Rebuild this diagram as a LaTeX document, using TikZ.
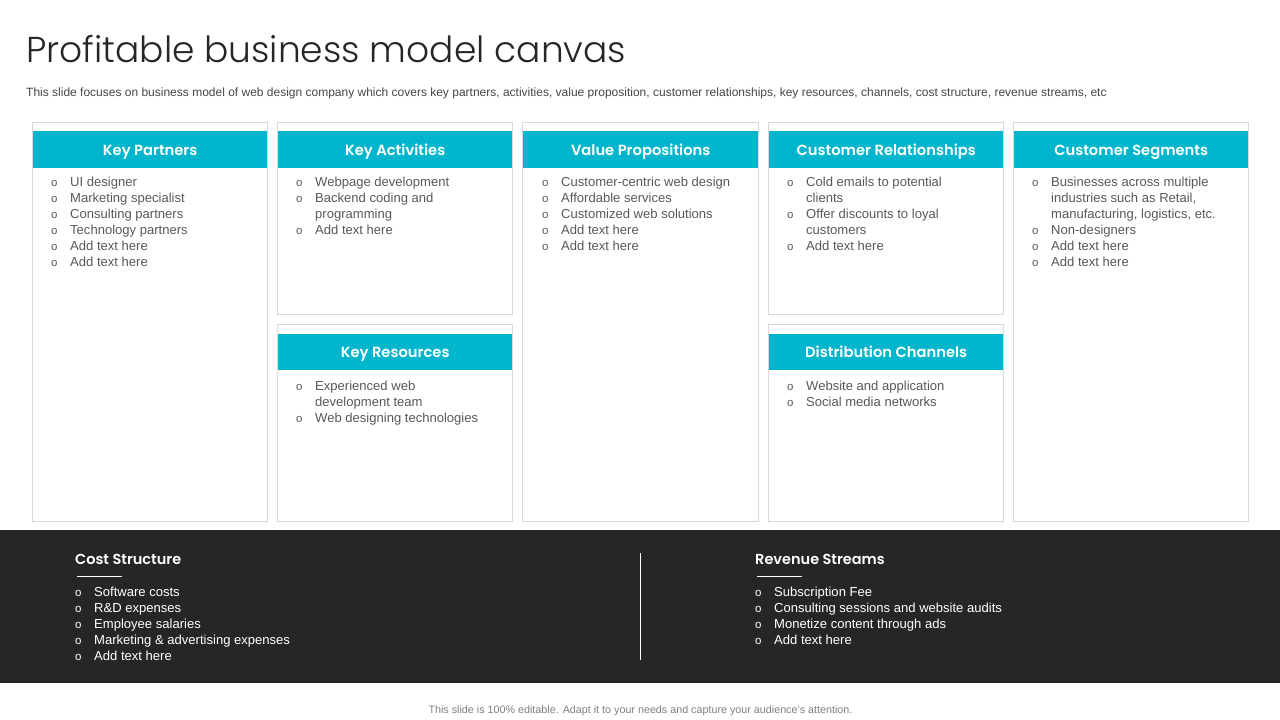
\documentclass[tikz,border=0pt]{standalone}
\usepackage{fontspec}
\setmainfont{Liberation Sans}
\newfontfamily\ttlfont{Poppins Light}
\newfontfamily\headfont{Poppins SemiBold}
\definecolor{cyanhead}{HTML}{00B5CC}
\definecolor{darkband}{HTML}{262626}
\definecolor{cardline}{HTML}{D9D9D9}
\definecolor{bodytext}{HTML}{595959}
\newcommand{\bl}{\makebox[19pt][l]{\fontsize{11.5}{16}\selectfont o}}
\newcommand{\ct}{\hspace*{19pt}}
\tikzset{
  card/.style={draw=cardline,line width=0.9pt,fill=white,anchor=north west,inner sep=0pt},
  headbar/.style={fill=cyanhead,text=white,anchor=north west,inner sep=0pt,minimum height=37pt,text height=13pt,text depth=2pt,font=\headfont\fontsize{14.7}{18}\selectfont,align=center},
  listtext/.style={anchor=north west,inner sep=0pt,align=left,text=bodytext,font=\fontsize{13.05}{16}\selectfont},
  darklist/.style={listtext,text=white},
  darkhead/.style={anchor=base west,inner sep=0pt,text=white,font=\headfont\fontsize{14.5}{18}\selectfont},
  rulewhite/.style={draw=white,line width=0.8pt},
}
\begin{document}
\begin{tikzpicture}[x=1pt,y=-1pt]
\useasboundingbox (0,0) rectangle (1280,720);
\fill[white] (0,0) rectangle (1280,720);
\node[anchor=base west,inner sep=0pt,text=darkband,font=\ttlfont\fontsize{36}{40}\selectfont] (title) at (26,62) {Profitable business model canvas};
\node[anchor=base west,inner sep=0pt,text=bodytext!80!black,font=\fontsize{12}{14}\selectfont] (sub) at (26,96.5) {This slide focuses on business model of web design company which covers key partners, activities, value proposition, customer relationships, key resources, channels, cost structure, revenue streams, etc};

% cards
\node[card,minimum width=235pt,minimum height=398.5pt] (c1) at (32,122) {};
\node[card,minimum width=235pt,minimum height=192pt] (c2) at (277,122) {};
\node[card,minimum width=235pt,minimum height=196.5pt] (c3) at (277,324) {};
\node[card,minimum width=236pt,minimum height=398.5pt] (c4) at (522,122) {};
\node[card,minimum width=235pt,minimum height=192pt] (c5) at (768,122) {};
\node[card,minimum width=235pt,minimum height=196.5pt] (c6) at (768,324) {};
\node[card,minimum width=235pt,minimum height=398.5pt] (c7) at (1013,122) {};

% headers
\node[headbar,minimum width=234pt] (h1) at (33,131) {Key Partners};
\node[headbar,minimum width=234pt] (h2) at (278,131) {Key Activities};
\node[headbar,minimum width=235pt] (h4) at (523,131) {Value Propositions};
\node[headbar,minimum width=234pt] (h5) at (769,131) {Customer Relationships};
\node[headbar,minimum width=234pt] (h7) at (1014,131) {Customer Segments};
\node[headbar,minimum width=234pt,minimum height=36pt] (h3) at (278,334) {Key Resources};
\node[headbar,minimum width=234pt,minimum height=36pt] (h6) at (769,334) {Distribution Channels};

% lists
\node[listtext] (l1) at (51,176.5) {\bl UI designer\\\bl Marketing specialist\\\bl Consulting partners\\\bl Technology partners\\\bl Add text here\\\bl Add text here};
\node[listtext] (l2) at (296,176.5) {\bl Webpage development\\\bl Backend coding and\\\ct programming\\\bl Add text here};
\node[listtext] (l3) at (296,380.5) {\bl Experienced web\\\ct development team\\\bl Web designing technologies};
\node[listtext] (l4) at (542,176.5) {\bl Customer-centric web design\\\bl Affordable services\\\bl Customized web solutions\\\bl Add text here\\\bl Add text here};
\node[listtext] (l5) at (787,176.5) {\bl Cold emails to potential\\\ct clients\\\bl Offer discounts to loyal\\\ct customers\\\bl Add text here};
\node[listtext] (l6) at (787,380.5) {\bl Website and application\\\bl Social media networks};
\node[listtext] (l7) at (1032,176.5) {\bl Businesses across multiple\\\ct industries such as Retail,\\\ct manufacturing, logistics, etc.\\\bl Non-designers\\\bl Add text here\\\bl Add text here};

% band
\fill[darkband] (0,530) rectangle (1280,683);
\node[darkhead] (cs) at (75,564.5) {Cost Structure};
\node[darkhead] (rs) at (755,564.5) {Revenue Streams};
\coordinate (u1a) at (77,576.5); \coordinate (u1b) at (122,576.5);
\coordinate (u2a) at (757,576.5); \coordinate (u2b) at (802,576.5);
\draw[rulewhite] (u1a) -- (u1b);
\draw[rulewhite] (u2a) -- (u2b);
\coordinate (da) at (640.5,553); \coordinate (db) at (640.5,660);
\draw[rulewhite] (da) -- (db);
\node[darklist] (l8) at (75,586.5) {\bl Software costs\\\bl R\&D expenses\\\bl Employee salaries\\\bl Marketing \& advertising expenses\\\bl Add text here};
\node[darklist] (l9) at (755,586.5) {\bl Subscription Fee\\\bl Consulting sessions and website audits\\\bl Monetize content through ads\\\bl Add text here};

\node[anchor=base,inner sep=0pt,text=black!50,font=\fontsize{10.75}{12}\selectfont] (foot) at (640.5,713) {This slide is 100\% editable. Adapt it to your needs and capture your audience's attention.};
\end{tikzpicture}
\end{document}
